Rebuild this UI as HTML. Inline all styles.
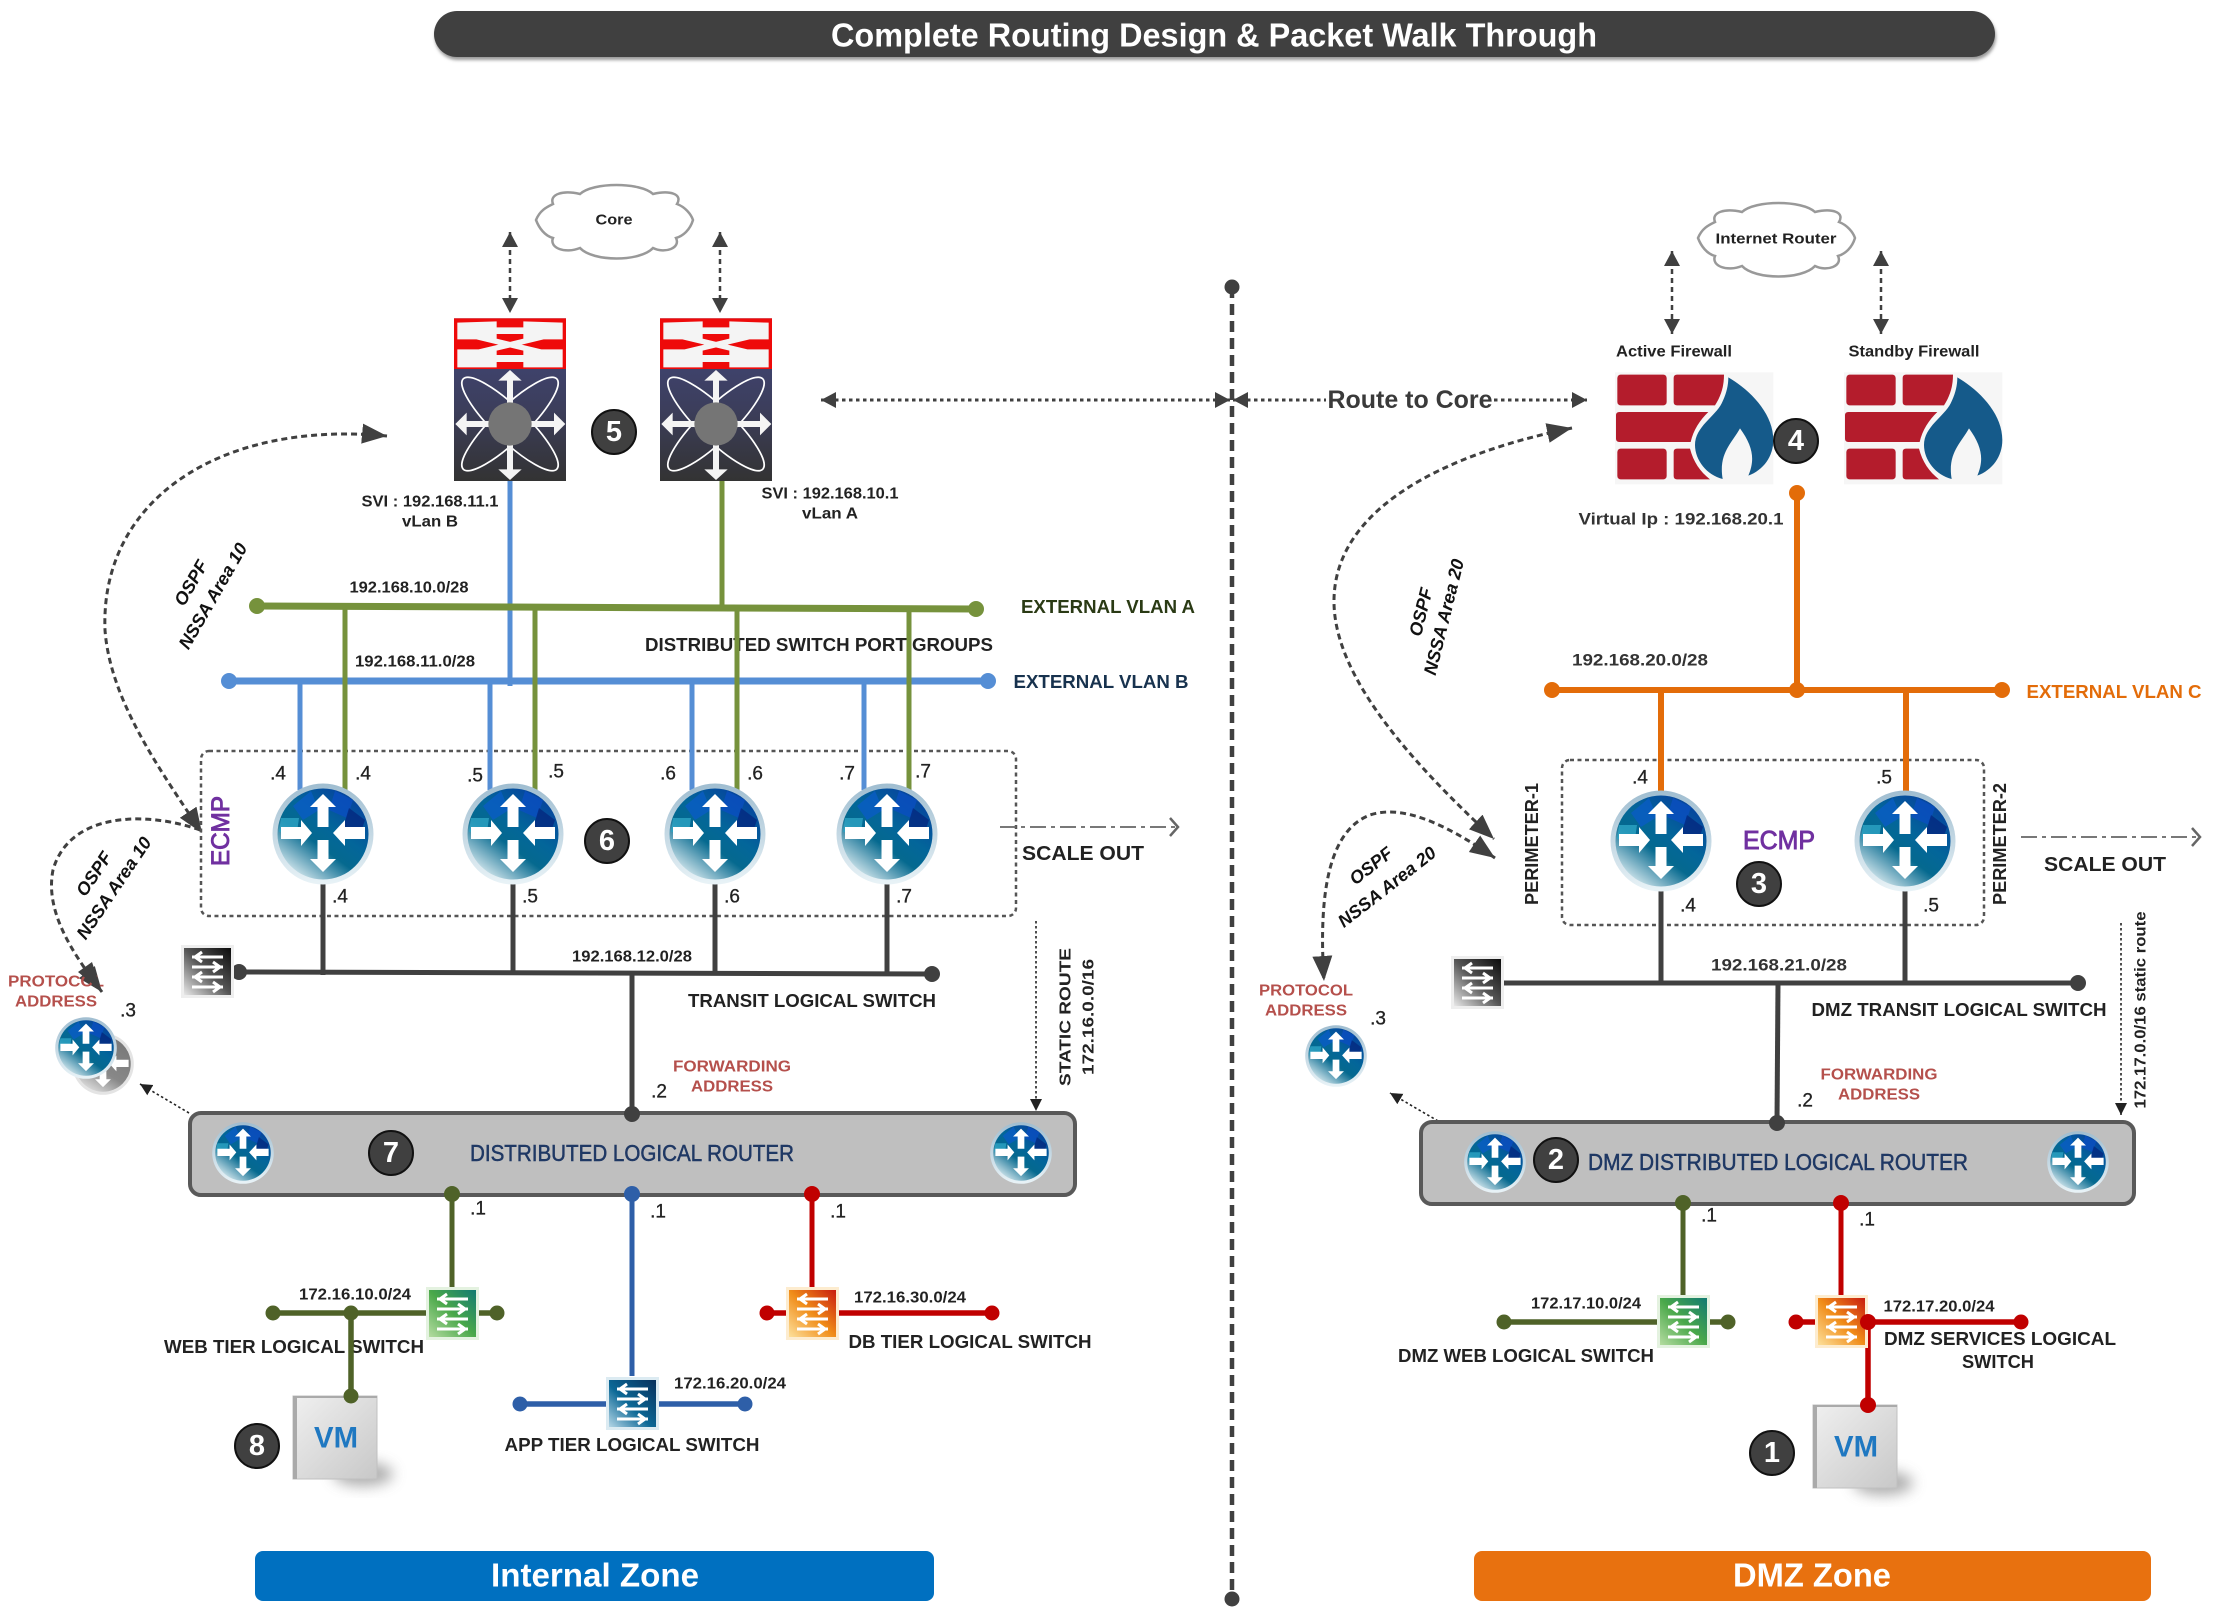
<!DOCTYPE html>
<html><head><meta charset="utf-8"><title>Complete Routing Design</title>
<style>
html,body{margin:0;padding:0;background:#fff}
svg{display:block}
text{font-family:"Liberation Sans",sans-serif;dominant-baseline:central;text-anchor:middle;fill:#222}
.s{font-size:16px;font-weight:bold}
.m{font-size:18px;font-weight:bold}
.ip{font-size:19px;fill:#222;stroke:#222;stroke-width:.3}
.fw{font-size:16px;font-weight:bold;fill:#b5504c}
.os{font-size:17px;font-weight:bold;font-style:italic;fill:#111}
.b{font-size:29px;font-weight:bold;fill:#fff}
.v{font-size:17px;font-weight:bold;fill:#333}
.d{font-size:23px;fill:#1f3864;stroke:#1f3864;stroke-width:.5}
.e{fill:#7030a0;stroke:#7030a0;stroke-width:.9}
</style></head><body>
<svg width="2213" height="1617" viewBox="0 0 2213 1617" xmlns="http://www.w3.org/2000/svg">
<defs>
<marker id="a" markerUnits="userSpaceOnUse" markerWidth="17" markerHeight="17" refX="15" refY="8" orient="auto-start-reverse"><path d="M0,0L15,8L0,16Z" fill="#404040"/></marker>
<marker id="al" markerUnits="userSpaceOnUse" markerWidth="28" markerHeight="22" refX="25" refY="10" orient="auto-start-reverse"><path d="M0,0L25,10L0,20Z" fill="#404040"/></marker>
<marker id="as" markerUnits="userSpaceOnUse" markerWidth="14" markerHeight="14" refX="12" refY="6" orient="auto"><path d="M0,0L12,6L0,12Z" fill="#222"/></marker>
<marker id="ch" markerUnits="userSpaceOnUse" markerWidth="12" markerHeight="20" refX="9" refY="10" orient="auto"><path d="M1,1L9,10L1,19" fill="none" stroke="#666" stroke-width="2.5"/></marker>
<linearGradient id="ring" x1="0" y1="0" x2="0" y2="1"><stop offset="0" stop-color="#9fbdd0"/><stop offset="1" stop-color="#e9f3f7"/></linearGradient>
<linearGradient id="rg" x1=".8" y1="0" x2=".1" y2=".95"><stop offset="0" stop-color="#06409e"/><stop offset=".4" stop-color="#03669a"/><stop offset=".6" stop-color="#05698f"/><stop offset="1" stop-color="#eef7f9"/></linearGradient>
<linearGradient id="gyg" x1=".8" y1="0" x2=".2" y2="1"><stop offset="0" stop-color="#777"/><stop offset=".6" stop-color="#888"/><stop offset="1" stop-color="#e6e6e6"/></linearGradient>
<linearGradient id="nx" x1="0" y1="0" x2="0" y2="1"><stop offset="0" stop-color="#42477e"/><stop offset=".55" stop-color="#3c3e5c"/><stop offset="1" stop-color="#333"/></linearGradient>
<linearGradient id="vm" x1="0" y1="0" x2="1" y2="1"><stop offset="0" stop-color="#f0f0f0"/><stop offset="1" stop-color="#c8c8c8"/></linearGradient>
<linearGradient id="sgr" x1="1" y1="0" x2="0" y2="1"><stop offset="0" stop-color="#127a72"/><stop offset=".5" stop-color="#4aa84a"/><stop offset="1" stop-color="#b4dca0"/></linearGradient>
<linearGradient id="sbl" x1="1" y1="0" x2="0" y2="1"><stop offset="0" stop-color="#08305c"/><stop offset=".55" stop-color="#0c6896"/><stop offset="1" stop-color="#b4d6e6"/></linearGradient>
<linearGradient id="sor" x1="1" y1="0" x2="0" y2="1"><stop offset="0" stop-color="#c81c10"/><stop offset=".5" stop-color="#f08c18"/><stop offset="1" stop-color="#fde09a"/></linearGradient>
<linearGradient id="sgy" x1="1" y1="0" x2="0" y2="1"><stop offset="0" stop-color="#0c0c0c"/><stop offset=".5" stop-color="#555"/><stop offset="1" stop-color="#e8e8e8"/></linearGradient>
<filter id="bl" x="-50%" y="-50%" width="200%" height="200%"><feGaussianBlur stdDeviation="7"/></filter>
<filter id="sh" x="-5%" y="-30%" width="110%" height="170%"><feGaussianBlur stdDeviation="1.5"/></filter>
<g id="ar"><path d="M-5.500,-7V-27H-13L0,-40L13,-27H5.500V-7ZM-5.500,6V25H-13L0,38L13,25H5.500V6ZM-42,-7H-22V-14L-11,-1L-22,12V5H-42ZM42,-7H22V-14L10,-1L22,12V5H42Z" fill="#fff"/></g>
<g id="r">
<circle r="50.5" fill="url(#ring)"/><circle r="45.5" fill="url(#rg)"/>
<path d="M-30,-28L-12,-43L-4,-24L-20,-14Z" fill="#0a5cc4" opacity=".8"/>
<path d="M12,-43L30,-34L24,-16L6,-24Z" fill="#0a4fc0" opacity=".8"/>
<path d="M26,-26L42,-14L38,-2L20,-6Z" fill="#04257e" opacity=".75"/>
<path d="M-42,-16L-24,-16L-26,-2L-44,-2Z" fill="#2da4c4" opacity=".8"/>
<use href="#ar"/>
</g>
<g id="sw">
<path d="M11,12H42M14,12l7,-5M14,12l7,5M11,22H42M39,22l-7,-5M39,22l-7,5M11,32H42M14,32l7,-5M14,32l7,5M11,42H42M39,42l-7,-5M39,42l-7,5" stroke="#fff" stroke-width="3" fill="none"/>
</g>
<g id="nex">
<rect x="72" y="55" width="336" height="488" fill="url(#nx)"/>
<rect x="72" y="55" width="336" height="152" fill="#ee0a0a"/>
<path d="M82,68L200,64V118L82,118ZM280,64L398,68V118H280ZM82,148H200V202L82,202ZM280,148H398V202H280ZM195,82H285V102H195ZM195,165H285V186H195ZM105,110H175L375,158H305ZM305,110H375L175,158H105Z" fill="#f4f4f4"/>
<ellipse cx="240" cy="372" rx="195" ry="50" transform="rotate(44 240 372)" fill="none" stroke="#fff" stroke-width="5"/>
<ellipse cx="240" cy="372" rx="195" ry="50" transform="rotate(-44 240 372)" fill="none" stroke="#fff" stroke-width="5"/>
<path d="M231,372V242H205L240,210L275,242H249V372ZM231,372V508H205L240,540L275,508H249V372ZM240,363H110V338L76,372L110,406V381H240ZM240,363H372V338L406,372L372,406V381H240Z" fill="#f4f4f4"/>
<circle cx="240" cy="372" r="65" fill="#757575"/>
</g>
<g id="fw">
<rect x="45" y="37" width="475" height="336" fill="#f6f6f6"/>
<g fill="#b41c2c">
<rect x="52" y="44" width="148" height="92" rx="10"/>
<path d="M231,44H372C372,75 365,105 345,136H231Q221,136 221,126V54Q221,44 231,44Z"/>
<path d="M58,156H325C300,180 280,210 272,246H58Q48,246 48,236V166Q48,156 58,156Z"/>
<rect x="52" y="266" width="148" height="92" rx="10"/>
<path d="M231,266H270C280,305 300,335 330,358H231Q221,358 221,348V276Q221,266 231,266Z"/>
</g>
<path d="M385,52C450,90 520,160 520,240C520,290 490,330 445,347C465,300 460,260 420,205C395,250 355,280 368,357C320,345 285,300 285,255C285,200 345,170 365,130C380,100 385,75 385,52Z" fill="#155a8a"/>
</g>
<g id="cl"><path d="M1,36C5,26 12,23 18,20C14,10 28,6 45,10C58,-2 105,-2 118,10C135,6 148,10 142,20C150,23 156,30 158,36C155,46 148,52 141,54C146,64 130,70 118,64C105,78 58,78 45,64C30,70 14,64 18,54C10,52 4,44 1,36Z" fill="#fff" stroke="#999" stroke-width="2.500"/></g>
<g id="vmi">
<ellipse cx="70" cy="78" rx="30" ry="12" fill="#999" filter="url(#bl)" opacity=".8"/>
<rect x="0" y="0" width="84" height="83" fill="url(#vm)" stroke="#c0c0c0" stroke-width="1"/>
<rect x="0" y="0" width="4" height="83" fill="#aaa"/><rect x="0" y="0" width="84" height="2" fill="#aaa"/>
<text x="43" y="42" style="font-size:30px;font-weight:bold;fill:#1f78c1" textLength="44" lengthAdjust="spacingAndGlyphs">VM</text>
</g>
</defs>

<!-- title -->
<rect x="435" y="14" width="1561" height="46" rx="23" fill="#999" filter="url(#sh)"/>
<rect x="434" y="11" width="1561" height="46" rx="23" fill="#404040"/>
<text x="1214" y="35" style="font-size:33px;font-weight:bold;fill:#fff" textLength="766" lengthAdjust="spacingAndGlyphs">Complete Routing Design &amp; Packet Walk Through</text>

<!-- center divider -->
<line x1="1232" y1="287" x2="1232" y2="1599" stroke="#404040" stroke-width="4.500" stroke-dasharray="11 6"/>
<circle cx="1232" cy="287" r="7.500" fill="#404040"/><circle cx="1232" cy="1599" r="7.500" fill="#404040"/>

<!-- route to core -->
<g fill="none" stroke="#404040" stroke-width="3" stroke-dasharray="3.500 3.500">
<line x1="821" y1="400" x2="1230" y2="400" marker-start="url(#a)" marker-end="url(#a)"/>
<line x1="1233" y1="400" x2="1326" y2="400" marker-start="url(#a)"/>
<line x1="1494" y1="400" x2="1587" y2="400" marker-end="url(#a)"/>
</g>
<text x="1410" y="400" style="font-size:25px;font-weight:bold;fill:#3a3a3a" textLength="165" lengthAdjust="spacingAndGlyphs">Route to Core</text>

<!-- clouds -->
<use href="#cl" x="535" y="184"/><text x="614" y="220" class="s" style="font-size:15px" textLength="37" lengthAdjust="spacingAndGlyphs">Core</text>
<use href="#cl" x="1697" y="202"/><text x="1776" y="239" class="s" style="font-size:15px" textLength="121" lengthAdjust="spacingAndGlyphs">Internet Router</text>

<!-- top arrows -->
<g fill="none" stroke="#404040" stroke-width="2.500" stroke-dasharray="5 4">
<line x1="510" y1="232" x2="510" y2="313" marker-start="url(#a)" marker-end="url(#a)"/>
<line x1="720" y1="232" x2="720" y2="313" marker-start="url(#a)" marker-end="url(#a)"/>
<line x1="1672" y1="251" x2="1672" y2="334" marker-start="url(#a)" marker-end="url(#a)"/>
<line x1="1881" y1="251" x2="1881" y2="334" marker-start="url(#a)" marker-end="url(#a)"/>
</g>

<!-- nexus -->
<use href="#nex" transform="translate(430,300) scale(.33333)"/>
<use href="#nex" transform="translate(636,300) scale(.33333)"/>

<!-- curved OSPF arrows -->
<g fill="none" stroke="#404040" stroke-width="3" stroke-dasharray="6 4">
<path d="M387,436C220,420 100,500 105,630C110,700 160,770 202,833" marker-start="url(#al)" marker-end="url(#al)"/>
<path d="M200,830C150,812 70,810 53,870C45,910 70,950 102,992" marker-end="url(#al)"/>
<path d="M1572,428C1440,455 1335,510 1334,600C1333,680 1420,770 1494,839" marker-start="url(#al)" marker-end="url(#al)"/>
<path d="M1495,858C1440,820 1400,805 1370,815C1330,830 1318,890 1324,981" marker-start="url(#al)" marker-end="url(#al)"/>
</g>

<text transform="translate(191,583) rotate(-60)" class="os" style="font-size:18px">OSPF</text>
<text transform="translate(213,596) rotate(-60)" class="os" style="font-size:18px">NSSA Area 10</text>
<text transform="translate(94,874) rotate(-56)" class="os" style="font-size:18px">OSPF</text>
<text transform="translate(114,888) rotate(-56)" class="os" style="font-size:18px">NSSA Area 10</text>
<text transform="translate(1421,612) rotate(-76)" class="os" style="font-size:18px">OSPF</text>
<text transform="translate(1444,617) rotate(-76)" class="os" style="font-size:18px">NSSA Area 20</text>
<text transform="translate(1371,866) rotate(-38)" class="os" style="font-size:18px">OSPF</text>
<text transform="translate(1387,887) rotate(-38)" class="os" style="font-size:18px">NSSA Area 20</text>

<!-- labels left top -->
<text x="430" y="502" class="s" textLength="137" lengthAdjust="spacingAndGlyphs">SVI : 192.168.11.1</text>
<text x="430" y="522" class="s" textLength="56" lengthAdjust="spacingAndGlyphs">vLan B</text>
<text x="830" y="494" class="s" textLength="137" lengthAdjust="spacingAndGlyphs">SVI : 192.168.10.1</text>
<text x="830" y="514" class="s" textLength="56" lengthAdjust="spacingAndGlyphs">vLan A</text>
<text x="409" y="588" class="s" textLength="119" lengthAdjust="spacingAndGlyphs">192.168.10.0/28</text>
<text x="415" y="662" class="s" textLength="120" lengthAdjust="spacingAndGlyphs">192.168.11.0/28</text>
<text x="819" y="645" class="m" textLength="348" lengthAdjust="spacingAndGlyphs">DISTRIBUTED SWITCH PORT GROUPS</text>
<text x="1108" y="607" class="m" style="fill:#2a3a14" textLength="174" lengthAdjust="spacingAndGlyphs">EXTERNAL VLAN A</text>
<text x="1101" y="682" class="m" style="fill:#17324e" textLength="175" lengthAdjust="spacingAndGlyphs">EXTERNAL VLAN B</text>

<!-- ECMP boxes -->
<rect x="201" y="751" width="815" height="165" rx="8" fill="none" stroke="#555" stroke-width="2.500" stroke-dasharray="4 3.500"/>
<rect x="1562" y="760" width="422" height="165" rx="8" fill="none" stroke="#555" stroke-width="2.500" stroke-dasharray="4 3.500"/>

<!-- VLAN lines -->
<g fill="none" stroke-linecap="butt">
<g stroke="#558ed5" stroke-width="5">
<line x1="510" y1="481" x2="510" y2="686"/>
<line x1="229" y1="681" x2="988" y2="681" stroke-width="7"/>
<line x1="300" y1="681" x2="300" y2="790"/><line x1="490" y1="681" x2="490" y2="790"/>
<line x1="692" y1="681" x2="692" y2="790"/><line x1="864" y1="681" x2="864" y2="790"/>
</g>
<g stroke="#76923c" stroke-width="5">
<line x1="722" y1="481" x2="722" y2="608"/>
<line x1="257" y1="606" x2="976" y2="609" stroke-width="7"/>
<line x1="345" y1="606" x2="345" y2="790"/><line x1="535" y1="607" x2="535" y2="790"/>
<line x1="737" y1="608" x2="737" y2="790"/><line x1="909" y1="609" x2="909" y2="790"/>
</g>
<g stroke="#e36c09" stroke-width="6">
<line x1="1797" y1="493" x2="1797" y2="690"/>
<line x1="1552" y1="690" x2="2002" y2="690"/>
<line x1="1661" y1="690" x2="1661" y2="800"/><line x1="1906" y1="690" x2="1906" y2="800"/>
</g>
<g stroke="#404040" stroke-width="5">
<line x1="323" y1="880" x2="323" y2="975"/><line x1="513" y1="880" x2="513" y2="975"/>
<line x1="715" y1="880" x2="715" y2="975"/><line x1="887" y1="880" x2="887" y2="975"/>
<line x1="239" y1="972" x2="932" y2="974"/>
<line x1="632" y1="973" x2="632" y2="1113"/>
<line x1="1661" y1="885" x2="1661" y2="983"/><line x1="1905" y1="885" x2="1905" y2="985"/>
<line x1="1501" y1="983" x2="2078" y2="983"/>
<line x1="1778" y1="983" x2="1777" y2="1122"/>
</g>
</g>
<g fill="#76923c"><circle cx="257" cy="606" r="8"/><circle cx="976" cy="609" r="8"/></g>
<g fill="#558ed5"><circle cx="229" cy="681" r="8"/><circle cx="988" cy="681" r="8"/></g>
<g fill="#e36c09"><circle cx="1552" cy="690" r="8"/><circle cx="1797" cy="690" r="8"/><circle cx="2002" cy="690" r="8"/><circle cx="1797" cy="493" r="8"/></g>
<g fill="#404040"><circle cx="239" cy="972" r="8"/><circle cx="932" cy="974" r="8"/><circle cx="2078" cy="983" r="8"/></g>

<!-- firewalls -->
<use href="#fw" transform="translate(1600,360) scale(.33333)"/>
<use href="#fw" transform="translate(1829,360) scale(.33333)"/>
<text x="1674" y="352" class="s" textLength="116" lengthAdjust="spacingAndGlyphs">Active Firewall</text>
<text x="1914" y="352" class="s" textLength="131" lengthAdjust="spacingAndGlyphs">Standby Firewall</text>
<text x="1681" y="519" class="v" textLength="205" lengthAdjust="spacingAndGlyphs">Virtual Ip : 192.168.20.1</text>
<text x="1640" y="660" class="v" textLength="136" lengthAdjust="spacingAndGlyphs">192.168.20.0/28</text>
<text x="2114" y="692" class="m" style="fill:#e36c09" textLength="175" lengthAdjust="spacingAndGlyphs">EXTERNAL VLAN C</text>

<!-- routers -->
<use href="#r" x="323" y="834"/><use href="#r" x="513" y="834"/><use href="#r" x="715" y="834"/><use href="#r" x="887" y="834"/>
<use href="#r" x="1661" y="841"/><use href="#r" x="1905" y="841"/>

<text transform="translate(221,831) rotate(-90)" class="e" style="font-size:25px" textLength="70" lengthAdjust="spacingAndGlyphs">ECMP</text>
<text x="1779" y="840" class="e" style="font-size:26px" textLength="72" lengthAdjust="spacingAndGlyphs">ECMP</text>
<text transform="translate(1532,844) rotate(-90)" class="m" textLength="122" lengthAdjust="spacingAndGlyphs">PERIMETER-1</text>
<text transform="translate(2000,844) rotate(-90)" class="m" textLength="122" lengthAdjust="spacingAndGlyphs">PERIMETER-2</text>

<!-- ips -->
<text x="278" y="774" class="ip">.4</text><text x="363" y="774" class="ip">.4</text>
<text x="475" y="776" class="ip">.5</text><text x="556" y="772" class="ip">.5</text>
<text x="668" y="774" class="ip">.6</text><text x="755" y="774" class="ip">.6</text>
<text x="847" y="774" class="ip">.7</text><text x="923" y="772" class="ip">.7</text>
<text x="340" y="897" class="ip">.4</text><text x="530" y="897" class="ip">.5</text>
<text x="732" y="897" class="ip">.6</text><text x="904" y="897" class="ip">.7</text>
<text x="1640" y="778" class="ip">.4</text><text x="1884" y="778" class="ip">.5</text>
<text x="1688" y="906" class="ip">.4</text><text x="1931" y="906" class="ip">.5</text>

<!-- badges -->
<g stroke="#111" stroke-width="2" fill="#404040">
<circle cx="614" cy="432" r="22"/><circle cx="607" cy="841" r="22"/><circle cx="1796" cy="441" r="22"/><circle cx="1759" cy="884" r="22"/>
<circle cx="257" cy="1446" r="22"/><circle cx="1772" cy="1453" r="22"/>
</g>
<text x="614" y="432" class="b">5</text><text x="607" y="841" class="b">6</text><text x="1796" y="441" class="b">4</text><text x="1759" y="884" class="b">3</text>
<text x="257" y="1446" class="b">8</text><text x="1772" y="1453" class="b">1</text>

<!-- scale out -->
<line x1="1000" y1="827" x2="1178" y2="827" stroke="#666" stroke-width="1.800" stroke-dasharray="16 5 4 5" marker-end="url(#ch)"/>
<line x1="2021" y1="837" x2="2200" y2="837" stroke="#666" stroke-width="1.800" stroke-dasharray="16 5 4 5" marker-end="url(#ch)"/>
<text x="1083" y="854" class="m" style="font-size:20px" textLength="122" lengthAdjust="spacingAndGlyphs">SCALE OUT</text>
<text x="2105" y="865" class="m" style="font-size:20px" textLength="122" lengthAdjust="spacingAndGlyphs">SCALE OUT</text>

<!-- transit -->
<rect x="181" y="945" width="53" height="53" fill="#eee"/><rect x="184" y="948" width="47" height="47" fill="url(#sgy)"/><use href="#sw" x="181" y="945"/>
<rect x="1451" y="956" width="53" height="53" fill="#eee"/><rect x="1454" y="959" width="47" height="47" fill="url(#sgy)"/><use href="#sw" x="1451" y="956"/>
<text x="632" y="957" class="s" textLength="120" lengthAdjust="spacingAndGlyphs">192.168.12.0/28</text>
<text x="812" y="1001" class="m" textLength="248" lengthAdjust="spacingAndGlyphs">TRANSIT LOGICAL SWITCH</text>
<text x="1779" y="965" class="v" textLength="136" lengthAdjust="spacingAndGlyphs">192.168.21.0/28</text>
<text x="1959" y="1010" class="m" textLength="295" lengthAdjust="spacingAndGlyphs">DMZ TRANSIT LOGICAL SWITCH</text>

<text x="732" y="1067" class="fw" textLength="118" lengthAdjust="spacingAndGlyphs">FORWARDING</text>
<text x="732" y="1087" class="fw" textLength="82" lengthAdjust="spacingAndGlyphs">ADDRESS</text>
<text x="659" y="1092" class="ip">.2</text>
<text x="1879" y="1075" class="fw" textLength="117" lengthAdjust="spacingAndGlyphs">FORWARDING</text>
<text x="1879" y="1095" class="fw" textLength="82" lengthAdjust="spacingAndGlyphs">ADDRESS</text>
<text x="1805" y="1101" class="ip">.2</text>

<text x="56" y="982" class="fw" textLength="96" lengthAdjust="spacingAndGlyphs">PROTOCOL</text>
<text x="56" y="1002" class="fw" textLength="82" lengthAdjust="spacingAndGlyphs">ADDRESS</text>
<text x="128" y="1011" class="ip">.3</text>
<text x="1306" y="991" class="fw" textLength="94" lengthAdjust="spacingAndGlyphs">PROTOCOL</text>
<text x="1306" y="1011" class="fw" textLength="82" lengthAdjust="spacingAndGlyphs">ADDRESS</text>
<text x="1378" y="1019" class="ip">.3</text>

<g transform="translate(103,1064) scale(.61)"><circle r="50.5" fill="#e4e4e4"/><circle r="45.5" fill="url(#gyg)"/><use href="#ar"/></g>
<use href="#r" transform="translate(86,1048) scale(.61)"/>
<use href="#r" transform="translate(1336,1056) scale(.61)"/>
<path d="M102,992L78,972L92,962Z" fill="#404040"/>

<!-- thin dotted arrows -->
<g fill="none" stroke="#222" stroke-width="1.600" stroke-dasharray="2.500 2.500">
<line x1="189" y1="1113" x2="140" y2="1084" marker-end="url(#as)"/>
<line x1="1438" y1="1121" x2="1390" y2="1093" marker-end="url(#as)"/>
<line x1="1036" y1="921" x2="1036" y2="1111" marker-end="url(#as)"/>
<line x1="2121" y1="923" x2="2121" y2="1115" marker-end="url(#as)"/>
</g>
<text transform="translate(1066,1017) rotate(-90)" class="s" textLength="138" lengthAdjust="spacingAndGlyphs">STATIC ROUTE</text>
<text transform="translate(1089,1017) rotate(-90)" class="s" textLength="116" lengthAdjust="spacingAndGlyphs">172.16.0.0/16</text>
<text transform="translate(2141,1010) rotate(-90)" class="s" textLength="197" lengthAdjust="spacingAndGlyphs">172.17.0.0/16 static route</text>

<!-- leg lines under DLR -->
<g fill="none" stroke-width="5">
<line x1="452" y1="1194" x2="452" y2="1291" stroke="#4f6228"/>
<line x1="632" y1="1194" x2="632" y2="1376" stroke="#2e5fa8"/>
<line x1="812" y1="1194" x2="812" y2="1291" stroke="#c00000"/>
<line x1="1683" y1="1203" x2="1683" y2="1300" stroke="#4f6228"/>
<line x1="1841" y1="1203" x2="1841" y2="1300" stroke="#c00000"/>
</g>

<!-- DLR -->
<rect x="190" y="1113" width="885" height="82" rx="11" fill="#bfbfbf" stroke="#595959" stroke-width="4"/>
<rect x="1421" y="1122" width="713" height="82" rx="11" fill="#bfbfbf" stroke="#595959" stroke-width="4"/>
<circle cx="632" cy="1114" r="8" fill="#404040"/><circle cx="1777" cy="1123" r="8" fill="#404040"/>
<use href="#r" transform="translate(243,1153) scale(.61)"/><use href="#r" transform="translate(1021,1153) scale(.61)"/>
<use href="#r" transform="translate(1495,1162) scale(.61)"/><use href="#r" transform="translate(2078,1162) scale(.61)"/>
<text x="632" y="1153" class="d" textLength="324" lengthAdjust="spacingAndGlyphs">DISTRIBUTED LOGICAL ROUTER</text>
<text x="1778" y="1162" class="d" textLength="380" lengthAdjust="spacingAndGlyphs">DMZ DISTRIBUTED LOGICAL ROUTER</text>
<circle cx="452" cy="1194" r="8" fill="#4f6228"/><circle cx="632" cy="1194" r="8" fill="#2e5fa8"/><circle cx="812" cy="1194" r="8" fill="#c00000"/>
<circle cx="1683" cy="1203" r="8" fill="#4f6228"/><circle cx="1841" cy="1203" r="8" fill="#c00000"/>
<circle cx="1556" cy="1160" r="22" fill="#404040" stroke="#111" stroke-width="2"/><text x="1556" y="1160" class="b">2</text>
<circle cx="391" cy="1153" r="22" fill="#404040" stroke="#111" stroke-width="2"/><text x="391" y="1153" class="b">7</text>
<text x="478" y="1209" class="ip">.1</text><text x="658" y="1212" class="ip">.1</text><text x="838" y="1212" class="ip">.1</text>
<text x="1709" y="1216" class="ip">.1</text><text x="1867" y="1220" class="ip">.1</text>

<!-- tier labels (under lines) -->
<text x="294" y="1347" class="m" textLength="260" lengthAdjust="spacingAndGlyphs">WEB TIER LOGICAL SWITCH</text>
<text x="355" y="1295" class="s" textLength="112" lengthAdjust="spacingAndGlyphs">172.16.10.0/24</text>
<text x="730" y="1384" class="s" textLength="112" lengthAdjust="spacingAndGlyphs">172.16.20.0/24</text>
<text x="632" y="1445" class="m" textLength="255" lengthAdjust="spacingAndGlyphs">APP TIER LOGICAL SWITCH</text>
<text x="910" y="1298" class="s" textLength="112" lengthAdjust="spacingAndGlyphs">172.16.30.0/24</text>
<text x="970" y="1342" class="m" textLength="243" lengthAdjust="spacingAndGlyphs">DB TIER LOGICAL SWITCH</text>
<text x="1586" y="1304" class="s" textLength="110" lengthAdjust="spacingAndGlyphs">172.17.10.0/24</text>
<text x="1526" y="1356" class="m" textLength="256" lengthAdjust="spacingAndGlyphs">DMZ WEB LOGICAL SWITCH</text>
<text x="1939" y="1307" class="s" textLength="111" lengthAdjust="spacingAndGlyphs">172.17.20.0/24</text>
<text x="2000" y="1339" class="m" textLength="232" lengthAdjust="spacingAndGlyphs">DMZ SERVICES LOGICAL</text>
<text x="1998" y="1362" class="m" textLength="72" lengthAdjust="spacingAndGlyphs">SWITCH</text>

<!-- tier lines -->
<g fill="none" stroke-width="5.500">
<line x1="273" y1="1313" x2="497" y2="1313" stroke="#4f6228"/>
<line x1="351" y1="1313" x2="351" y2="1396" stroke="#4f6228"/>
<line x1="520" y1="1404" x2="745" y2="1404" stroke="#2e5fa8"/>
<line x1="767" y1="1313" x2="992" y2="1313" stroke="#c00000"/>
<line x1="1504" y1="1322" x2="1728" y2="1322" stroke="#4f6228"/>
<line x1="1796" y1="1322" x2="2021" y2="1322" stroke="#c00000"/>
<line x1="1868" y1="1322" x2="1868" y2="1405" stroke="#c00000"/>
</g>
<use href="#vmi" x="293" y="1396"/>
<use href="#vmi" x="1813" y="1405"/>
<g fill="#4f6228"><circle cx="273" cy="1313" r="7.500"/><circle cx="351" cy="1313" r="7.500"/><circle cx="497" cy="1313" r="7.500"/><circle cx="351" cy="1396" r="7.500"/>
<circle cx="1504" cy="1322" r="7.500"/><circle cx="1728" cy="1322" r="7.500"/></g>
<g fill="#2e5fa8"><circle cx="520" cy="1404" r="7.500"/><circle cx="745" cy="1404" r="7.500"/></g>
<g fill="#c00000"><circle cx="767" cy="1313" r="7.500"/><circle cx="992" cy="1313" r="7.500"/><circle cx="1796" cy="1322" r="7.500"/><circle cx="2021" cy="1322" r="7.500"/></g>

<rect x="426" y="1287" width="53" height="53" fill="#e4f2e0"/><rect x="429" y="1290" width="47" height="47" fill="url(#sgr)"/><use href="#sw" x="426" y="1287"/>
<rect x="606" y="1377" width="53" height="53" fill="#dcebf2"/><rect x="609" y="1380" width="47" height="47" fill="url(#sbl)"/><use href="#sw" x="606" y="1377"/>
<rect x="786" y="1287" width="53" height="53" fill="#fdeccf"/><rect x="789" y="1290" width="47" height="47" fill="url(#sor)"/><use href="#sw" x="786" y="1287"/>
<rect x="1657" y="1295" width="53" height="53" fill="#e4f2e0"/><rect x="1660" y="1298" width="47" height="47" fill="url(#sgr)"/><use href="#sw" x="1657" y="1295"/>
<rect x="1815" y="1295" width="53" height="53" fill="#fdeccf"/><rect x="1818" y="1298" width="47" height="47" fill="url(#sor)"/><use href="#sw" x="1815" y="1295"/>
<circle cx="1868" cy="1322" r="8" fill="#c00000"/><circle cx="1868" cy="1405" r="8" fill="#c00000"/>

<!-- zones -->
<rect x="255" y="1551" width="679" height="50" rx="8" fill="#0070c0"/>
<text x="595" y="1575" style="font-size:33px;font-weight:bold;fill:#fff" textLength="208" lengthAdjust="spacingAndGlyphs">Internal Zone</text>
<rect x="1474" y="1551" width="677" height="50" rx="8" fill="#e8710f"/>
<text x="1812" y="1575" style="font-size:33px;font-weight:bold;fill:#fff" textLength="158" lengthAdjust="spacingAndGlyphs">DMZ Zone</text>
</svg>
</body></html>
